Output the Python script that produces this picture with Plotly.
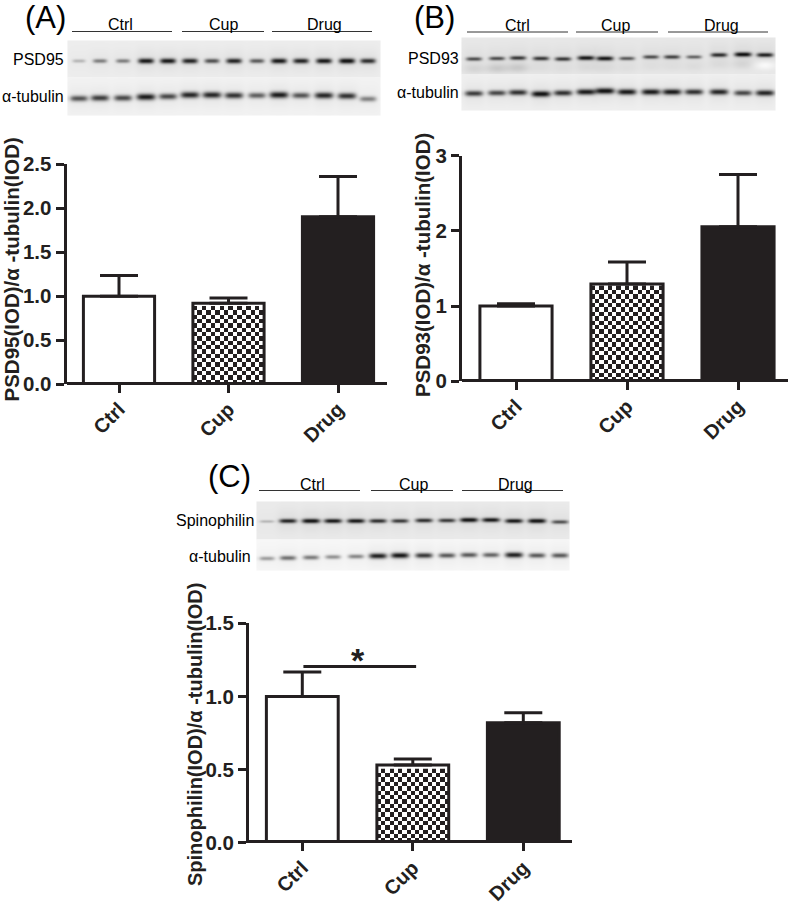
import numpy as np
import plotly.graph_objects as go

W, H = 788, 904
INK = "#231f20"

# ---------- data ----------
categories = ["Ctrl", "Cup", "Drug"]

psd95_mean = [1.0, 0.92, 1.905]
psd95_err = [0.235, 0.06, 0.455]
psd93_mean = [1.0, 1.295, 2.055]
psd93_err = [0.03, 0.29, 0.695]
spino_mean = [1.0, 0.531, 0.82]
spino_err = [0.167, 0.041, 0.069]

# blot band strengths (0-1), one per lane
psd95_bands = [.25, .5, .5, .95, .95, .9, .7, .9, .65, .95, .9, .95, 1, .85]
tubA_bands = [.7, .8, .75, .95, .75, .9, .9, .85, .65, .95, .7, .9, .85, .5]
psd93_bands = [.7, .7, .8, .8, .8, .95, .95, .65, .7, .75, .6, .85, 1, .9]
psd93_haze = [.06, .1, .1, .02, .02, .03, .03, .02, .02, .02, .03, .03, .05, -.09]
tubB_bands = [.8, .75, .85, 1, .85, .95, 1, .95, .95, .95, .85, .9, .75, .9]
spino_bands = [.25, .9, 1, .95, .95, .85, .8, .85, .8, 1, .95, .95, 1, .7]
tubC_bands = [.4, .6, .55, .45, .5, .95, 1, .85, .7, .7, .65, .95, .7, .7]

# ---------- layout constants (pixels) ----------
PANELS = [
    dict(left=66.5, right=386.7, y0=384.3, ytop=164.3, c0=119.0, step=109.5,
         ymax=2.5, dtick=0.5, fmt=".1f", mean=psd95_mean, err=psd95_err),
    dict(left=462.0, right=788.0, y0=381.3, ytop=155.7, c0=516.0, step=111.0,
         ymax=3.0, dtick=1, fmt="d", mean=psd93_mean, err=psd93_err),
    dict(left=249.0, right=572.3, y0=842.7, ytop=623.3, c0=302.3, step=110.5,
         ymax=1.5, dtick=0.5, fmt=".1f", mean=spino_mean, err=spino_err),
]
BAR_W = 0.65
CELL = 4.35

lanesA = [78, 99, 122, 145, 167, 189, 211, 233, 256, 278, 300, 323, 346, 367]
lanesB = [473, 496, 517, 540, 562, 585, 604, 626, 650, 671, 693, 718, 742, 764]
lanesC = [266, 287, 310, 332, 355, 377, 399, 423, 446, 468, 490, 513, 536, 559]

rowA1 = [60] * 14
rowA2 = [97.5, 97, 97, 96, 95.5, 94, 94, 94.5, 94.5, 94, 94.5, 94.5, 95, 98]
rowB1 = [58, 57.5, 57, 57.5, 58, 57, 57.5, 57.5, 56, 56, 56, 54, 53.5, 54]
rowB2 = [92.5, 92, 91.5, 93, 92, 91, 90, 91, 91, 91, 91, 91, 92, 92]
rowC1 = [520.5, 520, 520, 520, 520, 520, 520, 519.5, 519.5, 519, 519, 520, 520, 521]
rowC2 = [557.5, 557, 556.5, 556, 555.5, 555, 554.5, 554.5, 554.5, 554, 554, 554, 554.5, 554.5]


def px(x):
    return x / W


def py(y):
    return 1 - y / H


fig = go.Figure()
layout = dict(
    width=W, height=H, margin=dict(l=0, r=0, t=0, b=0, autoexpand=False),
    paper_bgcolor="white", plot_bgcolor="rgba(0,0,0,0)",
    showlegend=False, font=dict(family="Liberation Sans, Arial", color=INK),
)

# ---------- bar panels ----------
for i, p in enumerate(PANELS, start=1):
    xn, yn = f"x{i}", f"y{i}"
    rng = [(p["left"] - p["c0"]) / p["step"], (p["right"] - p["c0"]) / p["step"]]
    per_unit = (p["y0"] - p["ytop"]) / p["ymax"]

    # checkered fill of the Cup bar, sized from its value
    v = p["mean"][1]
    dx, dy = CELL / p["step"], CELL / per_unit
    nx = int(round(BAR_W / dx))
    ny = int(np.floor(v / dy))
    dx = BAR_W / nx
    chk = [[(r + c) % 2 for c in range(nx)] for r in range(ny)]
    fig.add_trace(go.Heatmap(
        z=chk, x0=1 - BAR_W / 2 + dx / 2, dx=dx, y0=dy / 2, dy=dy,
        colorscale=[[0, "white"], [1, INK]], zmin=0, zmax=1,
        showscale=False, hoverinfo="skip", xaxis=xn, yaxis=yn,
    ))
    fig.add_trace(go.Bar(
        x=[0, 1, 2], y=p["mean"], width=BAR_W, xaxis=xn, yaxis=yn,
        marker=dict(color=["white", "rgba(0,0,0,0)", INK],
                    line=dict(color=INK, width=3)),
        error_y=dict(type="data", symmetric=False, array=p["err"],
                     arrayminus=[0, 0, 0], color=INK, thickness=3, width=19),
        cliponaxis=False,
    ))
    layout[f"xaxis{i}"] = dict(
        domain=[px(p["left"]), min(px(p["right"]), 1)], range=rng,
        anchor="free", position=py(p["y0"] - 1.5),
        tickmode="array", tickvals=[0, 1, 2], ticktext=categories, tickangle=-45,
        ticks="outside", ticklen=8, tickwidth=3, tickcolor=INK, ticklabelstandoff=-3,
        showline=True, linewidth=3, linecolor=INK, showgrid=False, zeroline=False,
        tickfont=dict(size=20, family="Liberation Sans, Arial", weight="bold", color=INK),
    )
    layout[f"yaxis{i}"] = dict(
        domain=[py(p["y0"]), py(p["ytop"])], range=[0, p["ymax"]], anchor=xn,
        dtick=p["dtick"], tick0=0, tickformat=p["fmt"],
        ticks="outside", ticklen=8, tickwidth=3, tickcolor=INK,
        showline=True, linewidth=3, linecolor=INK, showgrid=False, zeroline=False,
        tickfont=dict(size=20.5, family="Liberation Sans, Arial", weight="bold", color=INK),
    )

# significance bar in panel C
fig.add_trace(go.Scatter(
    x=[0.01, 1.03], y=[1.204, 1.204], mode="lines", xaxis="x3", yaxis="y3",
    line=dict(color=INK, width=3), hoverinfo="skip", cliponaxis=False,
))


# ---------- blots ----------
def strip(x0, x1, y0, y1, lanes, rows, bands, bg=0.07, haze=None, band_w=8.0, thick0=1.4):
    xs = np.arange(x0, x1 + 1)
    ys = np.arange(y0, y1 + 1)
    X, Y = np.meshgrid(xs, ys)
    Z = np.full(X.shape, float(bg))
    for k, (c, r, b) in enumerate(zip(lanes, rows, bands)):
        prof = np.exp(-((X - c) / (band_w * (0.75 + 0.25 * b))) ** 4)
        thick = thick0 + 1.2 * b
        Z += prof * (b * 0.85 * np.exp(-((Y - r) / thick) ** 2))
        Z += 0.05 * b * np.exp(-((X - c) / 11.0) ** 4) * np.exp(-((Y - r) / 12.0) ** 2)
        if haze is not None:
            Z += haze[k] * np.exp(-((X - c) / 11.0) ** 2) * np.exp(-((Y - r - 10) / 4.5) ** 2)
    Z = np.clip(Z, 0, 0.93)
    fig.add_trace(go.Heatmap(
        z=Z, x=xs, y=ys, colorscale=[[0, "white"], [1, "black"]], zmin=0, zmax=1,
        showscale=False, hoverinfo="skip", xaxis="x4", yaxis="y4", zsmooth="best",
    ))


strip(68, 380, 41, 77, lanesA, rowA1, psd95_bands)
strip(68, 380, 78, 115, lanesA, rowA2, tubA_bands, bg=0.05, band_w=9.5, thick0=2.0)
strip(462, 775, 38, 74, lanesB, rowB1, psd93_bands, bg=0.09, haze=psd93_haze, band_w=8.5, thick0=1.0)
strip(462, 775, 75, 110, lanesB, rowB2, tubB_bands, bg=0.06, band_w=9.5, thick0=1.7)
strip(257, 569, 502, 539, lanesC, rowC1, spino_bands, bg=0.08, band_w=9.0, thick0=1.0)
strip(257, 569, 540, 570, lanesC, rowC2, tubC_bands, bg=0.03, band_w=9.0, thick0=1.5)

layout["xaxis4"] = dict(domain=[0, 1], range=[0, W], visible=False, anchor="y4")
layout["yaxis4"] = dict(domain=[0, 1], range=[H, 0], visible=False, anchor="x4")

# ---------- text and rules ----------
ann = []
shapes = []


def text(x, y, s, size, anchor="center", bold=False, angle=0, color="black"):
    ann.append(dict(
        xref="paper", yref="paper", x=px(x), y=py(y), text=s, showarrow=False,
        xanchor=anchor, yanchor="middle", textangle=angle, borderpad=0,
        font=dict(size=size, family="Liberation Sans, Arial", color=color,
                  weight="bold" if bold else "normal"),
    ))


def rule(x0, x1, y):
    shapes.append(dict(type="line", xref="paper", yref="paper",
                       x0=px(x0), x1=px(x1), y0=py(y), y1=py(y),
                       line=dict(color="#333333", width=1)))


for lab, x, y in [("(A)", 45, 18), ("(B)", 434, 18), ("(C)", 229, 476)]:
    text(x, y, lab, 31)

for spans, labs, ly, ty in [
    ([(72, 172), (182, 264), (272, 372)], (120, 223, 324), 31.5, 25),
    ([(467, 568), (576, 658), (668, 768)], (517, 615, 721), 32, 26),
    ([(259, 360), (371, 453), (462, 563)], (312, 413, 515), 490.5, 484),
]:
    for (a, b), lx, name in zip(spans, labs, categories):
        rule(a, b, ly)
        text(lx, ty, name, 16)

text(65, 60, "PSD95", 16, anchor="right")
text(65, 97, "α-tubulin", 16, anchor="right")
text(460, 58, "PSD93", 16, anchor="right")
text(460, 92, "α-tubulin", 16, anchor="right")
text(255, 520, "Spinophilin", 16, anchor="right")
text(252, 556, "α-tubulin", 16, anchor="right")

text(11.5, 270, "PSD95(IOD)/α -tubulin(IOD)", 20.5, bold=True, angle=-90, color=INK)
text(422, 265, "PSD93(IOD)/α -tubulin(IOD)", 20.5, bold=True, angle=-90, color=INK)
text(195, 735, "Spinophilin(IOD)/α -tubulin(IOD)", 20, bold=True, angle=-90, color=INK)
text(358, 659.5, "*", 34, bold=True, color=INK)

layout["annotations"] = ann
layout["shapes"] = shapes
fig.update_layout(**layout)
fig.write_html(
    "out.html",
    config={"displayModeBar": False},
    post_script="document.body.style.margin='0';document.documentElement.style.overflow='hidden';",
)
